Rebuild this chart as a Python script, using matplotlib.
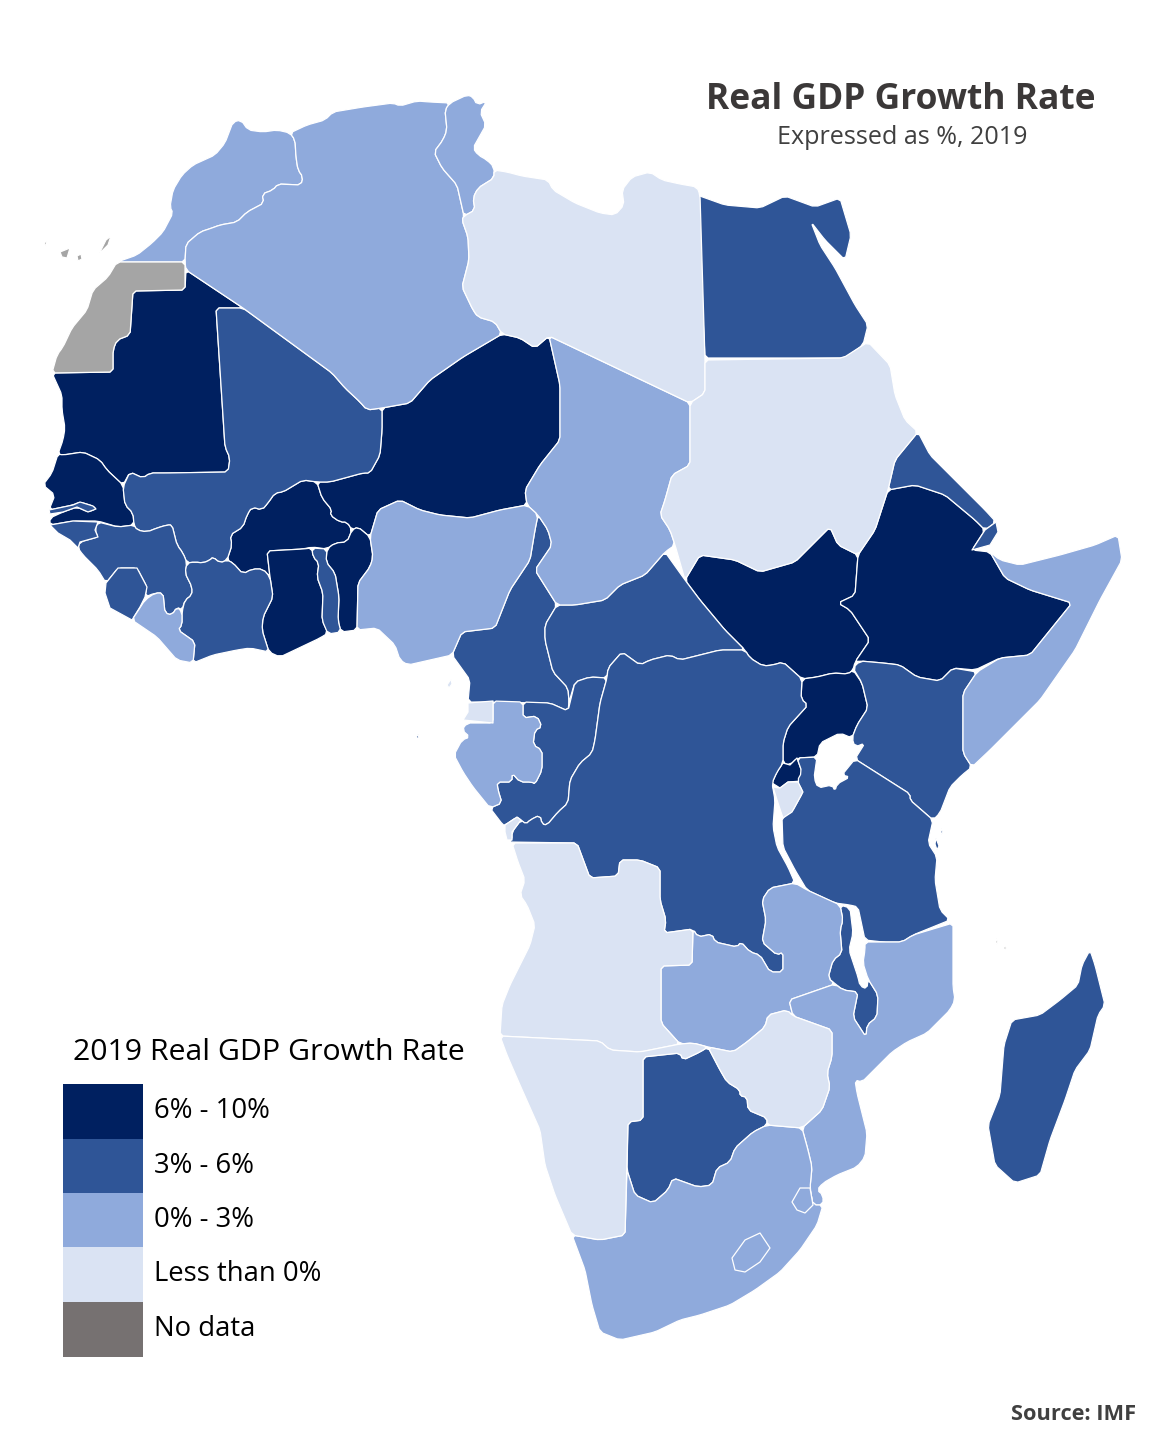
import numpy as np
import matplotlib
matplotlib.use('Agg')
import matplotlib.pyplot as plt
from matplotlib.patches import Polygon, Rectangle

plt.rcParams['font.family'] = ['Open Sans', 'DejaVu Sans']

# outlines, x/y in image pixels
morocco = [(117,262),(137,255),(152,243),(163,232),(173,213),(170,207),(173,190),(182,175),(193,165),(215,155),(225,143),(233,122),(241,120),(248,130),(263,132),(277,130),(290,133),(295,140),(296,157),(298,170),(303,177),(301,185),(278,184),(273,190),(262,194),(264,203),(247,212),(237,222),(220,225),(212,228),(200,232),(186,244),(185,262)]
algeria = [(290,133),(307,125),(325,120),(333,112),(363,107),(393,103),(400,106),(417,101),(430,102),(450,103),(445,110),(447,130),(443,140),(434,152),(442,168),(457,185),(464,216),(462,220),(468,237),(469,260),(462,287),(473,310),(478,317),(495,322),(502,334),(463,357),(430,380),(410,403),(382,408),(367,410),(360,402),(345,388),(332,373),(243,308),(186,270),(185,262),(186,244),(200,232),(212,228),(220,225),(237,222),(247,212),(264,203),(262,194),(273,190),(278,184),(301,185),(303,177),(298,170),(296,157),(295,140)]
tunisia = [(450,103),(467,95),(473,97),(477,105),(487,101),(480,112),(486,125),(473,148),(478,155),(487,160),(494,167),(494,178),(478,188),(473,198),(475,210),(464,216),(457,185),(442,168),(434,152),(443,140),(447,130),(445,110)]
libya = [(494,170),(507,172),(522,176),(548,180),(553,190),(575,203),(600,213),(615,215),(624,205),(622,190),(632,177),(650,172),(662,180),(680,184),(697,187),(700,195),(705,360),(705,393),(690,403),(549,336),(535,348),(520,338),(502,334),(495,322),(478,317),(473,310),(462,287),(469,260),(468,237),(462,220),(464,216),(475,210),(473,198),(478,188),(494,178)]
egypt = [(697,195),(725,205),(760,208),(785,196),(815,207),(840,198),(851,235),(845,260),(825,240),(811,222),(820,245),(835,268),(855,305),(868,325),(863,345),(845,358),(705,358)]
sudan = [(705,360),(843,358),(868,342),(890,365),(895,395),(905,420),(918,432),(895,460),(888,490),(875,530),(858,555),(838,545),(830,527),(795,562),(760,572),(735,560),(700,555),(685,580),(675,545),(670,530),(660,515),(665,500),(672,475),(690,465),(690,403),(705,393)]
ethiopia = [(888,490),(915,485),(945,495),(975,520),(985,530),(972,550),(990,552),(1005,578),(1030,590),(1072,603),(1030,655),(1000,658),(975,670),(953,668),(940,681),(917,677),(900,665),(883,663),(860,661),(855,662),(870,640),(850,610),(838,603),(855,595),(858,555),(875,530)]
eritrea = [(888,490),(895,460),(918,432),(930,455),(960,485),(985,510),(996,522),(985,530),(975,520),(945,495),(915,485)]
djibouti = [(996,522),(998,532),(990,545),(972,550),(985,530)]
somalia = [(990,552),(1000,560),(1020,565),(1060,555),(1095,545),(1118,535),(1122,560),(1100,600),(1075,650),(1040,700),(990,750),(972,767),(963,753),(963,693),(977,672),(1000,658),(1030,655),(1072,603),(1030,590),(1005,578)]
kenya = [(853,668),(860,661),(883,663),(900,665),(917,677),(940,681),(953,668),(977,672),(963,693),(963,753),(972,767),(962,775),(950,787),(940,813),(933,820),(910,800),(910,794),(855,759),(865,743),(855,747),(852,738),(857,725),(868,708),(862,683)]
uganda = [(802,679),(817,677),(833,673),(848,674),(853,670),(862,683),(868,708),(857,725),(852,738),(840,733),(820,743),(817,757),(797,758),(790,765),(783,763),(783,743),(788,727),(808,705),(801,699)]
tanzania = [(797,758),(817,757),(814,778),(818,788),(832,785),(835,791),(837,784),(850,777),(842,775),(855,759),(910,794),(910,800),(933,820),(928,843),(937,857),(935,880),(940,910),(950,920),(913,935),(902,942),(883,942),(865,940),(858,907),(850,905),(835,903),(807,890),(795,870),(783,847),(782,817),(792,812),(803,792),(797,781),(802,772)]
rwanda = [(772,783),(777,772),(783,763),(790,765),(797,758),(802,772),(802,781),(788,782),(780,788)]
burundi = [(773,787),(780,788),(788,782),(798,782),(803,792),(792,812),(783,818),(778,803)]
drc = [(508,842),(577,843),(590,878),(618,876),(620,860),(640,860),(660,868),(660,900),(666,920),(664,933),(693,929),(698,937),(712,934),(715,942),(737,947),(741,942),(750,952),(760,955),(770,972),(783,972),(783,952),(777,955),(762,942),(766,920),(762,900),(770,888),(795,883),(788,867),(777,847),(773,827),(775,800),(772,783),(777,772),(783,763),(783,743),(788,727),(808,705),(801,699),(802,679),(783,662),(773,665),(763,666),(750,658),(745,650),(720,650),(680,660),(670,655),(650,660),(640,665),(622,652),(608,668),(607,678),(600,703),(595,740),(592,753),(580,763),(570,780),(568,803),(558,812),(547,825),(542,824),(540,815),(530,820),(526,824),(521,820),(512,832),(512,840)]
congo = [(523,702),(550,703),(568,711),(575,682),(590,677),(607,678),(600,703),(595,740),(592,753),(580,763),(570,780),(568,803),(558,812),(547,825),(542,824),(540,815),(530,820),(526,824),(521,820),(517,817),(505,825),(503,825),(490,808),(502,803),(498,790),(497,782),(512,782),(512,773),(520,782),(532,782),(535,784),(542,770),(542,750),(533,745),(535,730),(542,727),(537,716),(523,718)]
gabon = [(493,701),(523,702),(523,718),(537,716),(542,727),(535,730),(533,745),(542,750),(542,770),(535,784),(532,782),(520,782),(512,773),(512,782),(497,782),(498,790),(502,803),(490,808),(473,787),(463,772),(454,755),(462,740),(470,737),(462,730),(467,723),(493,723)]
eq_guinea = [(468,703),(493,701),(493,723),(463,720),(468,712)]
bioko = [(447,685),(451,679),(452,684),(449,688)]
sao_tome = [(416,738),(418,734),(419,738)]
cameroon = [(538,515),(548,530),(552,545),(535,570),(557,605),(545,625),(545,640),(553,672),(568,688),(569,702),(568,711),(550,703),(468,702),(470,680),(452,655),(462,632),(495,628),(510,590),(530,560),(535,530)]
car = [(665,552),(685,580),(700,600),(725,630),(745,650),(720,650),(680,660),(670,655),(650,660),(640,665),(622,652),(608,668),(607,678),(590,677),(575,682),(569,702),(568,688),(553,672),(545,640),(545,625),(557,605),(575,605),(605,600),(620,585),(645,575)]
chad = [(549,336),(690,403),(690,465),(672,475),(665,500),(660,515),(670,530),(675,545),(665,552),(645,575),(620,585),(605,600),(575,605),(557,605),(535,570),(552,545),(548,530),(538,515),(527,505),(525,490),(540,465),(560,440),(560,385)]
niger = [(382,408),(410,403),(430,380),(463,357),(502,334),(520,338),(535,348),(549,336),(560,385),(560,440),(540,465),(525,490),(527,505),(500,510),(470,518),(440,515),(420,510),(400,500),(378,510),(370,537),(358,527),(352,530),(347,522),(340,522),(330,515),(332,510),(322,498),(317,482),(330,482),(363,473),(370,473),(380,455),(382,430)]
mali = [(216,308),(243,308),(332,373),(345,388),(360,402),(367,410),(382,408),(382,430),(380,455),(370,473),(363,473),(330,482),(317,482),(303,480),(283,492),(275,493),(268,503),(262,510),(252,507),(247,515),(243,527),(230,535),(232,545),(227,560),(220,563),(213,557),(210,560),(203,563),(195,562),(187,563),(183,553),(177,545),(172,525),(167,525),(157,528),(147,532),(137,530),(134,525),(133,513),(125,505),(123,487),(130,472),(143,478),(150,473),(167,473),(228,472),(230,458),(225,447)]
mauritania = [(186,270),(243,308),(216,308),(225,447),(230,458),(228,472),(167,473),(150,473),(143,478),(130,472),(123,485),(107,470),(100,460),(83,452),(63,455),(58,454),(63,440),(65,428),(62,410),(62,395),(52,373),(113,372),(113,350),(117,340),(130,335),(133,291),(185,290)]
w_sahara = [(117,262),(185,262),(185,290),(133,291),(130,335),(117,340),(113,350),(113,372),(52,373),(57,355),(63,347),(72,328),(87,310),(93,290),(108,277)]
canary_1 = [(44,243),(46,241),(47,247)]
canary_2 = [(60,252),(70,248),(67,258),(62,257)]
canary_3 = [(77,256),(81,254),(82,259),(78,261)]
canary_4 = [(99,254),(106,240),(111,236),(108,245)]
senegal = [(58,454),(63,455),(83,452),(100,460),(107,470),(123,485),(125,505),(133,513),(134,525),(118,527),(98,521),(73,521),(50,525),(50,518),(63,512),(77,507),(88,512),(96,509),(93,506),(80,502),(73,505),(49,510),(55,495),(43,485),(52,473)]
gambia = [(49,510),(73,505),(80,502),(93,506),(96,509),(88,512),(77,507),(63,512),(50,514)]
guinea_bissau = [(50,525),(73,521),(98,522),(95,530),(98,537),(80,542),(78,548),(70,540),(58,533)]
guinea = [(98,522),(118,527),(134,525),(137,530),(147,532),(157,528),(167,525),(172,525),(177,545),(183,553),(187,563),(185,573),(192,587),(192,595),(185,600),(182,610),(177,607),(172,615),(165,613),(163,593),(155,593),(145,597),(147,587),(137,568),(118,568),(106,583),(98,570),(83,555),(78,548),(80,542),(98,537),(95,530)]
sierra_leone = [(106,583),(118,568),(137,568),(147,587),(145,597),(140,607),(132,620),(110,608),(105,593)]
liberia = [(132,620),(145,600),(155,593),(163,593),(165,613),(172,615),(177,607),(182,612),(182,625),(178,630),(195,642),(193,663),(177,660),(157,637)]
ivory_coast = [(187,563),(195,562),(203,563),(210,560),(213,557),(220,563),(227,560),(233,563),(243,574),(252,569),(263,569),(270,577),(273,597),(263,617),(262,630),(269,652),(250,648),(237,650),(213,655),(193,663),(195,642),(178,630),(182,625),(182,612),(185,600),(192,595),(192,587),(185,573)]
burkina = [(317,482),(303,480),(283,492),(275,493),(268,503),(262,510),(252,507),(247,515),(243,527),(230,535),(232,545),(227,560),(233,563),(243,574),(252,569),(263,569),(270,577),(267,551),(303,549),(312,547),(327,549),(335,543),(347,542),(352,530),(347,522),(340,522),(330,515),(332,510),(322,498)]
ghana = [(267,551),(303,549),(312,548),(313,557),(319,563),(317,577),(323,593),(322,620),(328,633),(320,638),(280,657),(269,652),(262,630),(263,617),(273,597),(270,577)]
togo = [(312,548),(327,549),(326,562),(335,573),(339,597),(338,620),(341,632),(328,634),(322,620),(323,593),(317,577),(319,563),(313,557)]
benin = [(327,549),(335,543),(347,542),(352,530),(358,527),(370,537),(373,557),(370,567),(358,583),(357,630),(341,632),(338,620),(339,597),(335,573),(326,562)]
nigeria = [(370,537),(378,510),(400,500),(420,510),(440,515),(470,518),(500,510),(527,505),(538,515),(535,530),(530,560),(510,590),(495,628),(462,632),(452,655),(430,660),(408,665),(400,660),(395,645),(377,628),(357,630),(358,583),(370,567),(373,557)]
south_sudan = [(685,580),(700,555),(735,560),(760,572),(795,562),(830,527),(838,545),(858,555),(855,595),(838,603),(850,610),(870,640),(855,662),(853,670),(848,674),(833,673),(817,677),(802,679),(783,662),(773,665),(763,666),(750,658),(745,650),(725,630),(700,600)]
angola = [(512,843),(577,843),(590,878),(618,876),(620,860),(640,860),(660,868),(660,900),(666,920),(664,933),(693,929),(692,965),(661,966),(661,1023),(680,1044),(640,1052),(610,1050),(600,1041),(500,1036),(502,1005),(510,985),(520,965),(530,945),(535,925),(527,905),(520,895),(525,880),(518,862)]
cabinda = [(505,825),(517,817),(521,820),(512,832),(512,840),(507,840),(505,832)]
namibia = [(500,1036),(600,1041),(610,1050),(640,1052),(680,1044),(693,1043),(708,1047),(700,1052),(683,1060),(680,1053),(643,1057),(643,1120),(628,1122),(625,1235),(600,1240),(572,1235),(555,1195),(545,1165),(540,1130),(520,1085),(507,1055)]
botswana = [(643,1057),(680,1053),(683,1060),(700,1052),(708,1047),(720,1070),(727,1082),(740,1090),(740,1096),(747,1097),(748,1110),(767,1118),(767,1125),(753,1132),(735,1148),(730,1162),(717,1168),(712,1185),(698,1187),(673,1178),(668,1190),(653,1203),(635,1195),(627,1170),(628,1122),(643,1120)]
zimbabwe = [(708,1047),(733,1052),(747,1042),(765,1027),(768,1015),(787,1010),(793,1016),(832,1030),(832,1057),(827,1073),(830,1087),(822,1110),(802,1128),(767,1125),(767,1118),(748,1110),(747,1097),(740,1096),(740,1090),(727,1082),(720,1070)]
zambia = [(661,966),(692,965),(693,929),(698,937),(712,934),(715,942),(737,947),(741,942),(750,952),(760,955),(770,972),(783,972),(783,952),(777,955),(762,942),(766,920),(762,900),(770,888),(795,883),(807,890),(840,905),(843,920),(840,930),(842,953),(833,960),(828,978),(835,984),(789,1000),(793,1016),(787,1010),(768,1015),(765,1027),(747,1042),(733,1052),(708,1047),(693,1043),(680,1044),(661,1023)]
malawi = [(840,905),(850,908),(853,933),(849,950),(858,977),(860,986),(867,989),(868,979),(878,995),(877,1017),(867,1025),(866,1037),(853,1017),(858,992),(843,990),(828,978),(833,960),(842,953),(840,930),(843,920)]
mozambique = [(865,942),(883,942),(902,942),(913,935),(953,923),(953,987),(955,1000),(950,1010),(927,1033),(907,1042),(892,1052),(862,1082),(855,1080),(857,1093),(867,1133),(865,1157),(857,1167),(837,1175),(823,1183),(817,1190),(823,1195),(823,1205),(813,1205),(810,1188),(812,1167),(808,1150),(802,1128),(822,1110),(830,1087),(827,1073),(832,1057),(832,1030),(793,1016),(789,1000),(835,984),(843,990),(858,992),(853,1017),(866,1037),(867,1025),(877,1017),(878,995),(868,979),(863,963),(865,950)]
south_africa = [(802,1128),(808,1150),(812,1167),(810,1188),(813,1205),(823,1205),(817,1225),(800,1250),(780,1272),(755,1290),(730,1305),(700,1315),(680,1320),(655,1332),(620,1340),(600,1332),(592,1305),(585,1270),(572,1235),(600,1240),(625,1235),(627,1170),(635,1195),(653,1203),(668,1190),(673,1178),(698,1187),(712,1185),(717,1168),(730,1162),(735,1148),(753,1132),(767,1125)]
eswatini = [(792,1202),(800,1188),(810,1188),(813,1205),(805,1213),(797,1210)]
lesotho = [(732,1258),(745,1240),(760,1233),(770,1248),(760,1262),(745,1272),(735,1270)]
madagascar = [(1090,950),(1095,965),(1105,1005),(1098,1015),(1090,1050),(1075,1070),(1065,1100),(1050,1140),(1040,1175),(1015,1183),(995,1165),(988,1125),(1000,1095),(1004,1045),(1012,1020),(1040,1015),(1060,1000),(1078,985),(1082,965)]
zanzibar = [(936,838),(939,846),(937,850),(935,844)]
pemba = [(941,828),(943,832),(941,835)]
comoros = [(996,938),(998,942),(996,945)]
comoros_2 = [(1004,946),(1007,948),(1004,950)]

# growth class of each country
high = [mauritania, senegal, burkina, niger, ghana, benin, south_sudan, ethiopia, uganda, rwanda]
medium = [mali, guinea, gambia, guinea_bissau, sierra_leone, ivory_coast, togo, cameroon, car, congo, drc,
          egypt, eritrea, djibouti, kenya, tanzania, malawi, botswana, madagascar, zanzibar, pemba, sao_tome]
low = [morocco, algeria, tunisia, chad, nigeria, liberia, gabon, somalia, zambia, mozambique, south_africa, eswatini, lesotho]
negative = [libya, sudan, eq_guinea, bioko, cabinda, angola, namibia, zimbabwe, burundi]
no_data = [w_sahara, canary_1, canary_2, canary_3, canary_4, comoros, comoros_2]

legend_labels = ['6% - 10%', '3% - 6%', '0% - 3%', 'Less than 0%', 'No data']
legend_colors = ['#002060', '#2F5597', '#8FAADC', '#DAE3F3', '#767171']
legend_tops = [1084, 1139, 1193, 1247, 1302]
map_colors = ['#002060', '#2F5597', '#8FAADC', '#DAE3F3', '#A5A5A5']


def round_corners(shape, cut=3.0):
    # takes the hard corners off a hand read outline
    pts = np.array(shape, dtype=float)
    if len(pts) < 10:
        return pts
    out = []
    n = len(pts)
    for i in range(n):
        a, b, c = pts[i - 1], pts[i], pts[(i + 1) % n]
        d1 = np.linalg.norm(a - b)
        d2 = np.linalg.norm(c - b)
        out.append(b + (a - b) * min(cut, d1 * 0.3) / d1)
        out.append(b + (c - b) * min(cut, d2 * 0.3) / d2)
    return np.array(out)


fig = plt.figure(figsize=(11.52, 14.4), dpi=100)
ax = fig.add_axes([0, 0, 1, 1])
ax.set_xlim(0, 1152)
ax.set_ylim(1440, 0)
ax.axis('off')

for group, col in zip([high, medium, low, negative, no_data], map_colors):
    for shape in group:
        ax.add_patch(Polygon(round_corners(shape), closed=True, facecolor=col, edgecolor='white', linewidth=0.9, joinstyle='round'))

# legend
ax.text(73, 1053, '2019 Real GDP Growth Rate', fontsize=21.8, color='black', va='center', ha='left')
for lab, col, top in zip(legend_labels, legend_colors, legend_tops):
    ax.add_patch(Rectangle((63, top), 80, 54.5, facecolor=col, edgecolor='none'))
    ax.text(154, top + 27, lab, fontsize=19.8, color='black', va='center', ha='left')

# titles
ax.text(901, 100, 'Real GDP Growth Rate', fontsize=25.5, fontweight='bold', color='#3B3838', va='center', ha='center')
ax.text(902, 137, 'Expressed as %, 2019', fontsize=18.1, color='#404040', va='center', ha='center')
ax.text(1136, 1414, 'Source: IMF', fontsize=15.7, fontweight='bold', color='#404040', va='center', ha='right')

fig.savefig('out.png', dpi=100)
